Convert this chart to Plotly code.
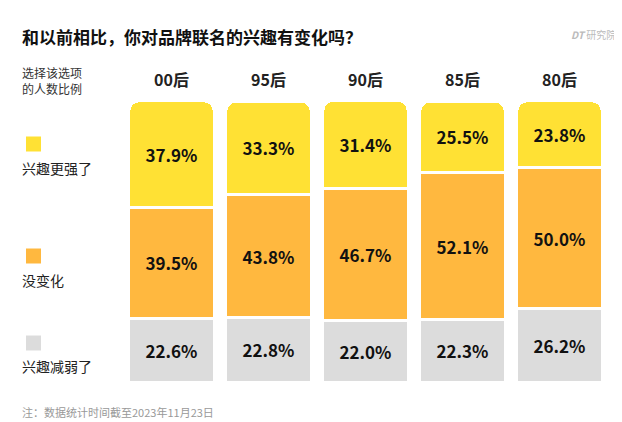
import plotly.graph_objects as go

categories = ["00后", "95后", "90后", "85后", "80后"]
more = [37.9, 33.3, 31.4, 25.5, 23.8]
same = [39.5, 43.8, 46.7, 52.1, 50.0]
less = [22.6, 22.8, 22.0, 22.3, 26.2]
series = [("兴趣减弱了", less, "#DCDCDC"), ("没变化", same, "#FFB83F"), ("兴趣更强了", more, "#FFE134")]

W, H = 622, 422
L, R, T, B = 115, 22, 90, 48
fig = go.Figure()
for name, vals, col in series:
    fig.add_bar(x=categories, y=vals, name=name, marker=dict(color=col, line=dict(color="white", width=3)),
                text=[f"{v:.1f}%" for v in vals], textposition="inside", insidetextanchor="middle",
                textfont=dict(size=17, color="#111", family="Noto Sans CJK SC"), texttemplate="<b>%{text}</b>")

fig.update_layout(
    width=W, height=H, barmode="stack", bargap=0.12, barcornerradius=10, showlegend=False,
    margin=dict(l=L, r=R, t=T, b=B), plot_bgcolor="white", paper_bgcolor="white",
    font=dict(family="Noto Sans CJK SC", color="#222"),
    xaxis=dict(side="top", showline=False, ticks="", tickfont=dict(size=16, color="#222"),
               tickvals=categories, ticktext=[f"<b>{c}</b>" for c in categories]),
    yaxis=dict(visible=False, range=[0, 101]),
)
fig.update_xaxes(ticklabelstandoff=8)

def px(xp): return (xp - L) / (W - L - R)
def py(yp): return (H - B - yp) / (H - T - B)

ann = [
    dict(text="<b>和以前相比，你对品牌联名的兴趣有变化吗？</b>", x=12, y=28, size=17, color="#111", anchor="left"),
    dict(text="<b><i>DT</i></b> 研究院", x=W-12, y=26, size=10, color="#BBBBBB", anchor="right"),
    dict(text="选择该选项<br>的人数比例", x=12, y=72, size=12, color="#333", anchor="left"),
    dict(text="兴趣更强了", x=12, y=160, size=14, color="#222", anchor="left"),
    dict(text="没变化", x=12, y=272, size=14, color="#222", anchor="left"),
    dict(text="兴趣减弱了", x=12, y=358, size=14, color="#222", anchor="left"),
    dict(text="注：数据统计时间截至2023年11月23日", x=12, y=404, size=11, color="#999", anchor="left"),
]
for a in ann:
    fig.add_annotation(text=a["text"], x=px(a["x"]), y=py(a["y"]), xref="paper", yref="paper", showarrow=False,
                       xanchor=a["anchor"], yanchor="middle", font=dict(size=a["size"], color=a["color"]))

for yc, col in [(136, "#FFE134"), (248, "#FFB83F"), (335, "#DCDCDC")]:
    fig.add_shape(type="rect", xref="paper", yref="paper", x0=px(18), x1=px(33), y0=py(yc+7.5), y1=py(yc-7.5),
                  fillcolor=col, line=dict(width=0))

fig.write_html("out.html")
